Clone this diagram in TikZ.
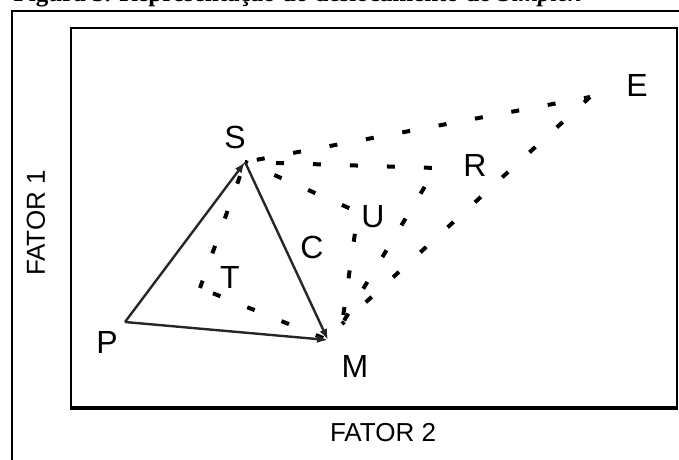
\documentclass[tikz,border=0pt]{standalone}
\usepackage{fontspec}
\setmainfont{Liberation Serif}
\newfontfamily\labfont{Liberation Sans}
\usetikzlibrary{arrows.meta}
\begin{document}
\begin{tikzpicture}[x=1pt,y=-1pt,
  solidedge/.style={line width=2.4pt, black!85, -{Latex[length=11pt,width=8pt]}},
  dashedge/.style={line width=4pt, dash pattern=on 8pt off 29pt, dash phase=#1},
  ptlabel/.style={font=\labfont\fontsize{32}{32}\selectfont, inner sep=0pt},
  axlabel/.style={font=\labfont\fontsize{26}{26}\selectfont, inner sep=0pt},
  frameline/.style={line width=2pt}]
\useasboundingbox (0,0) rectangle (679,459);
\fill[white] (0,0) rectangle (679,459);
% caption (only its lowest part shows)
\begin{scope}
\clip (0,0) rectangle (679,9);
\node[anchor=base west, inner sep=0pt, font=\bfseries\fontsize{25}{30}\selectfont] (cap) at (13.5,1.5) {Figura 3. Representação do deslocamento do \textit{Simplex}};
\end{scope}
\begin{scope}
\clip (0,0) rectangle (679,459);
% frames
\draw[frameline] (12,470) -- (12,11) -- (690,11);
\draw[line width=1.5pt] (71,28) rectangle (677,407);
\draw[line width=3.5pt] (70,408.5) -- (678,408.5);
\draw[line width=2.5pt] (677,28) -- (677,409);
\end{scope}
% vertices
\coordinate (S) at (245,162);
\coordinate (P) at (125,322);
\coordinate (M) at (328,340);
\coordinate (E) at (590,97);
\coordinate (R) at (436,168);
\coordinate (U) at (358,212);
\coordinate (T) at (200,288);
\coordinate (Mx) at (342,324);
% dashed moves
\draw[dashedge=25] (S) -- (E);
\draw[dashedge=0] (E) -- (Mx);
\draw[dashedge=6] (S) -- (R);
\draw[dashedge=15] (R) -- (Mx);
\draw[dashedge=5] (S) -- (U);
\draw[dashedge=15] (U) -- (Mx);
\draw[dashedge=22] (S) -- (T);
\draw[dashedge=23] (T) -- (M);
% solid simplex
\draw[solidedge] (P) -- (S);
\draw[solidedge] (P) -- (M);
\draw[solidedge] (S) -- (M);
% labels
\node[ptlabel] (lS) at (235,137) {S};
\node[ptlabel] (lP) at (107,342) {P};
\node[ptlabel] (lM) at (355,366) {M};
\node[ptlabel] (lE) at (637,85) {E};
\node[ptlabel] (lR) at (475,165) {R};
\node[ptlabel] (lU) at (373,217) {U};
\node[ptlabel] (lC) at (312,247) {C};
\node[ptlabel] (lT) at (230,277) {T};
\node[axlabel, rotate=90] (f1) at (36,223) {FATOR 1};
\node[axlabel] (f2) at (383,433) {FATOR 2};
\end{tikzpicture}
\end{document}
